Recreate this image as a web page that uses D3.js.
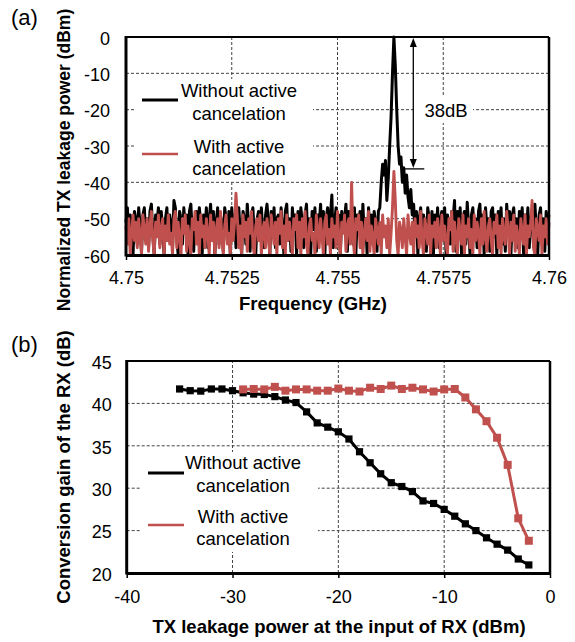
<!DOCTYPE html>
<html>
<head>
<meta charset="utf-8">
<script src="https://cdn.jsdelivr.net/npm/d3@7/dist/d3.min.js"></script>
<style>
  html, body { margin: 0; padding: 0; background: #fff; }
  svg { display: block; font-family: "Liberation Sans", Arial, sans-serif; }
</style>
</head>
<body>
<svg id="chart" width="575" height="642"></svg>
<script>
// ---------- Panel (a) data ----------
const freqStart = 4.75;
const freqStep = 0.01 / 300;
const freqTicks = [4.75, 4.7525, 4.755, 4.7575, 4.76];
const freqTickLabels = ["4.75", "4.7525", "4.755", "4.7575", "4.76"];
const powerTicks = [0, -10, -20, -30, -40, -50, -60];

const withoutCancelA = [
  -51,-47,-56,-49,-53,-60,-48,-50,-57,-47,-52,-59,-49,-47,-55,-50,-58,-48,-46,-54,
  -60,-49,-51,-47,-57,-48,-53,-60,-50,-47,-56,-49,-52,-58,-45,-47,-55,-60,-48,-50,
  -57,-47,-52,-49,-60,-48,-46,-54,-59,-50,-48,-56,-47,-51,-60,-49,-53,-47,-58,-50,
  -46,-55,-48,-60,-51,-47,-57,-49,-52,-59,-47,-50,-56,-48,-60,-47,-53,-49,-58,-51,
  -47,-54,-60,-48,-50,-57,-46,-52,-59,-49,-47,-55,-60,-50,-48,-56,-47,-53,-58,-49,
  -46,-51,-60,-48,-55,-47,-58,-50,-49,-57,-47,-53,-60,-48,-46,-56,-50,-59,-47,-52,
  -49,-60,-48,-55,-47,-51,-58,-49,-46,-57,-50,-60,-48,-53,-47,-59,-49,-52,-46,-56,
  -48,-60,-50,-47,-55,-49,-43.5,-58,-51,-47,-57,-49,-60,-48,-53,-50,-46,-59,-48,-54,
  -50,-57,-47,-60,-49,-52,-48,-58,-46,-55,-50,-60,-47,-53,-49,-57,-48,-51,-59,-48,
  -47,-40,-35,-38,-34,-45,-39,-30,-22,-10,0,-8,-20,-30,-35,-33,-40,-36,-43,-38,
  -44,-47,-42,-49,-46,-55,-48,-60,-50,-47,-56,-49,-52,-59,-47,-50,-57,-48,-60,-49,
  -53,-47,-58,-50,-48,-56,-47,-60,-49,-52,-57,-48,-50,-45,-59,-48,-54,-47,-60,-50,
  -48,-57,-45.5,-52,-60,-49,-47,-55,-50,-58,-48,-46,-56,-49,-60,-47,-53,-50,-59,-48,
  -47,-55,-49,-60,-48,-52,-47,-57,-50,-59,-46,-53,-48,-60,-49,-47,-56,-50,-58,-48,
  -52,-47,-60,-49,-55,-47,-58,-50,-48,-57,-46,-53,-60,-49,-47,-56,-50,-59,-48,-51,
  -49
];
const withCancelA = [
  -52,-57,-50,-60,-54,-49,-56,-51,-58,-50,-55,-60,-49,-53,-57,-50,-59,-52,-48,-56,
  -60,-51,-55,-49,-58,-53,-50,-60,-52,-56,-49,-57,-54,-60,-50,-48,-58,-51,-55,-60,
  -50,-54,-49,-59,-52,-56,-60,-50,-53,-48,-57,-51,-60,-49,-55,-52,-58,-50,-54,-60,
  -49,-56,-51,-60,-53,-50,-58,-48,-55,-60,-52,-49,-57,-54,-60,-50,-56,-51,-43,-50,
  -58,-52,-60,-49,-55,-51,-59,-50,-54,-48,-57,-60,-52,-50,-56,-49,-60,-53,-51,-58,
  -50,-55,-60,-49,-53,-57,-51,-60,-50,-54,-48,-58,-52,-60,-49,-56,-51,-55,-60,-50,
  -53,-49,-58,-51,-60,-50,-55,-48,-57,-60,-52,-50,-56,-54,-60,-49,-53,-58,-50,-55,
  -60,-51,-49,-57,-53,-60,-50,-55,-52,-58,-48,-56,-60,-51,-54,-49,-59,-52,-50,-57,
  -40,-55,-60,-50,-53,-49,-58,-51,-60,-54,-50,-56,-48,-59,-52,-55,-60,-50,-53,-57,
  -51,-60,-49,-55,-52,-58,-50,-60,-54,-47,-37,-45,-56,-60,-51,-53,-58,-50,-55,-60,
  -49,-54,-57,-51,-60,-50,-55,-52,-58,-48,-56,-60,-50,-53,-57,-49,-60,-52,-55,-51,
  -58,-50,-54,-60,-49,-56,-52,-57,-60,-50,-53,-48,-59,-51,-55,-60,-50,-54,-57,-49,
  -60,-52,-55,-50,-58,-53,-60,-49,-56,-51,-54,-60,-50,-57,-48,-55,-59,-52,-50,-56,
  -60,-51,-54,-49,-58,-52,-60,-50,-55,-57,-48,-53,-60,-51,-56,-49,-59,-52,-55,-60,
  -50,-54,-57,-49,-60,-52,-55,-51,-45,-58,-60,-50,-53,-56,-49,-60,-52,-55,-50,-57,
  -51
];

// ---------- Panel (b) data ----------
const txPowerWithout = [-35,-34,-33,-32,-31,-30,-29,-28,-27,-26,-25,-24,-23,-22,-21,-20,-19,-18,-17,-16,-15,-14,-13,-12,-11,-10,-9,-8,-7,-6,-5,-4,-3,-2];
const gainWithout = [41.7,41.5,41.45,41.7,41.7,41.5,41.25,41.1,41.05,40.8,40.4,40.1,39.0,37.7,37.2,36.65,35.8,34.3,33.0,31.7,30.65,30.2,29.6,28.5,28.2,27.5,26.7,25.8,25.0,24.15,23.4,22.7,21.65,20.95];
const txPowerWith = [-29,-28,-27,-26,-25,-24,-23,-22,-21,-20,-19,-18,-17,-16,-15,-14,-13,-12,-11,-10,-9,-8,-7,-6,-5,-4,-3,-2];
const gainWith = [41.65,41.7,41.65,41.95,41.5,41.65,41.65,41.5,41.5,41.75,41.5,41.4,41.85,41.7,42.1,41.7,41.85,41.65,41.4,41.65,41.7,40.7,39.3,37.9,35.95,32.75,26.45,23.8];
const txTicks = [-40, -30, -20, -10, 0];
const gainTicks = [20, 25, 30, 35, 40, 45];

const legendLabels = [["Without active", "cancelation"], ["With active", "cancelation"]];
const peakLabel = "38dB";

// ---------- styles ----------
const RED = "#C0504D";
const FONT = 18.5;
const svg = d3.select("#chart");
const plainFmt = d => String(d);   // ASCII hyphen-minus like the original

function frame(g, x, y) {
  const [x0, x1] = x.range(), [y0, y1] = y.range();
  g.append("line").attr("x1", x0).attr("x2", x1).attr("y1", y1).attr("y2", y1)
    .attr("stroke", "#000").attr("stroke-width", 2);
  g.append("line").attr("x1", x1).attr("x2", x1).attr("y1", y1).attr("y2", y0)
    .attr("stroke", "#000").attr("stroke-width", 2.5);
}

function grid(g, x, y, xt, yt) {
  const [x0, x1] = x.range(), [y0, y1] = y.range();
  g.selectAll(null).data(xt.slice(1, -1)).enter().append("line")
    .attr("x1", d => x(d)).attr("x2", d => x(d)).attr("y1", y0).attr("y2", y1)
    .attr("stroke", "#444").attr("stroke-width", 1).attr("stroke-dasharray", "3,2");
  g.selectAll(null).data(yt.filter(d => d !== y.domain()[0] && d !== y.domain()[1])).enter().append("line")
    .attr("x1", x0).attr("x2", x1).attr("y1", d => y(d)).attr("y2", d => y(d))
    .attr("stroke", "#444").attr("stroke-width", 1).attr("stroke-dasharray", "3,2");
}

function axes(g, x, y, xt, xl, yt, xLabelY, yPad) {
  const [y0] = y.range();
  const ax = g.append("g").attr("transform", `translate(0,${y0})`)
    .call(d3.axisBottom(x).tickValues(xt).tickFormat((d, i) => xl ? xl[i] : plainFmt(d)).tickSizeInner(5).tickSizeOuter(0));
  ax.select(".domain").attr("stroke-width", 3);
  ax.selectAll(".tick line").attr("stroke-width", 1.5);
  ax.selectAll("text").attr("font-size", 18).attr("font-family", "Liberation Sans, Arial").attr("fill", "#000")
    .attr("y", xLabelY).attr("dy", "0.71em");
  const ay = g.append("g").attr("transform", `translate(${x.range()[0]},0)`)
    .call(d3.axisLeft(y).tickValues(yt).tickSize(0).tickPadding(yPad).tickFormat(plainFmt));
  ay.select(".domain").attr("stroke-width", 3);
  ay.selectAll("text").attr("font-size", 18).attr("font-family", "Liberation Sans, Arial").attr("fill", "#000")
    .attr("dy", "0.4em");
  ay.select(".domain").attr("d", `M0,${y.range()[0] + 1.5}V${y.range()[1] - 1}`);
}

function legend(g, box, lineY, textRows, cx) {
  g.append("rect").attr("x", box[0]).attr("y", box[1]).attr("width", box[2]).attr("height", box[3]).attr("fill", "#fff");
  const colors = ["#000", RED];
  legendLabels.forEach((lab, i) => {
    g.append("line").attr("x1", box[0] + 8).attr("x2", box[0] + 44).attr("y1", lineY[i]).attr("y2", lineY[i])
      .attr("stroke", colors[i]).attr("stroke-width", i === 0 ? 3 : 2.5);
    lab.forEach((t, j) => {
      g.append("text").attr("x", cx).attr("y", textRows[i][j]).attr("text-anchor", "middle")
        .attr("font-size", FONT).attr("fill", "#000").text(t);
    });
  });
}

// ================= Panel (a) =================
const ga = svg.append("g");
const xa = d3.scaleLinear().domain([4.75, 4.76]).range([126, 549]);
const ya = d3.scaleLinear().domain([-60, 0]).range([255, 37]);
grid(ga, xa, ya, freqTicks, powerTicks);

const freqs = withoutCancelA.map((_, i) => freqStart + i * freqStep);
const lineA = d3.line().x((d, i) => xa(freqs[i])).y(d => ya(d));
ga.append("path").datum(withoutCancelA).attr("d", lineA).attr("fill", "none")
  .attr("stroke", "#000").attr("stroke-width", 3).attr("stroke-linejoin", "round");
ga.append("path").datum(withCancelA).attr("d", lineA).attr("fill", "none")
  .attr("stroke", RED).attr("stroke-width", 2.9).attr("stroke-linejoin", "round");

// legend (a)
legend(ga, [134, 79, 179, 101], [100, 154], [[96.5, 119.5], [152.5, 174.5]], 239);

// 38dB annotation
const arrowF = 4.756792, peakTop = 0, peakBottom = -36.3;
ga.append("rect").attr("x", 416).attr("y", 97).attr("width", 57).attr("height", 26).attr("fill", "#fff");
ga.append("text").attr("x", 446).attr("y", 116.8).attr("text-anchor", "middle").attr("font-size", FONT).text(peakLabel);
const ax1 = xa(arrowF), ay1 = ya(peakTop) + 1, ay2 = ya(peakBottom) - 1;
ga.append("line").attr("x1", ax1).attr("x2", ax1).attr("y1", ay1 + 6).attr("y2", ay2 - 6).attr("stroke", "#000").attr("stroke-width", 1.3);
ga.append("path").attr("d", `M${ax1},${ay1}L${ax1 - 3.5},${ay1 + 9}L${ax1 + 3.5},${ay1 + 9}Z`).attr("fill", "#000");
ga.append("path").attr("d", `M${ax1},${ay2}L${ax1 - 3.5},${ay2 - 9}L${ax1 + 3.5},${ay2 - 9}Z`).attr("fill", "#000");
ga.append("line").attr("x1", xa(4.756518)).attr("x2", xa(4.757052)).attr("y1", ya(peakBottom)).attr("y2", ya(peakBottom))
  .attr("stroke", "#000").attr("stroke-width", 1.3);

frame(ga, xa, ya);
axes(ga, xa, ya, freqTicks, freqTickLabels, powerTicks, 16.5, 16);

ga.append("text").attr("x", 313).attr("y", 310).attr("text-anchor", "middle").attr("font-size", FONT)
  .attr("font-weight", "bold").text("Frequency (GHz)");
ga.append("text").attr("transform", "translate(70,160) rotate(-90)").attr("text-anchor", "middle")
  .attr("font-size", 17.5).attr("font-weight", "bold").text("Normalized TX leakage power (dBm)");
ga.append("text").attr("x", 11).attr("y", 25).attr("font-size", 22).text("(a)");

// ================= Panel (b) =================
const gb = svg.append("g");
const xb = d3.scaleLinear().domain([-40, 0]).range([126.7, 550]);
const yb = d3.scaleLinear().domain([20, 45]).range([573, 361]);
grid(gb, xb, yb, txTicks, gainTicks);

legend(gb, [140, 452, 178, 100], [473, 525], [[469, 492], [523, 545]], 243);

const lineB = d3.line().x(d => xb(d[0])).y(d => yb(d[1]));
const ptsWithout = txPowerWithout.map((p, i) => [p, gainWithout[i]]);
const ptsWith = txPowerWith.map((p, i) => [p, gainWith[i]]);
gb.append("path").datum(ptsWithout).attr("d", lineB).attr("fill", "none").attr("stroke", "#000").attr("stroke-width", 3);
gb.selectAll(null).data(ptsWithout).enter().append("rect")
  .attr("x", d => xb(d[0]) - 3.6).attr("y", d => yb(d[1]) - 3.6).attr("width", 7.2).attr("height", 7.2).attr("fill", "#000");
gb.append("path").datum(ptsWith).attr("d", lineB).attr("fill", "none").attr("stroke", RED).attr("stroke-width", 3);
gb.selectAll(null).data(ptsWith).enter().append("rect")
  .attr("x", d => xb(d[0]) - 4).attr("y", d => yb(d[1]) - 4).attr("width", 8).attr("height", 8).attr("fill", RED);

frame(gb, xb, yb);
axes(gb, xb, yb, txTicks, null, gainTicks, 17.6, 15);

gb.append("text").attr("x", 339).attr("y", 633).attr("text-anchor", "middle").attr("font-size", FONT)
  .attr("font-weight", "bold").text("TX leakage power at the input of RX (dBm)");
gb.append("text").attr("transform", "translate(70,467) rotate(-90)").attr("text-anchor", "middle")
  .attr("font-size", FONT).attr("font-weight", "bold").text("Conversion gain of the RX (dB)");
gb.append("text").attr("x", 11).attr("y", 352).attr("font-size", 22).text("(b)");
</script>
</body>
</html>
